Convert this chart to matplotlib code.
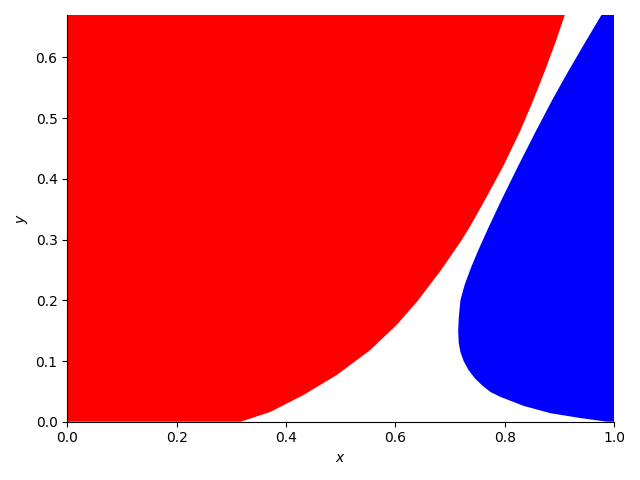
import matplotlib
matplotlib.use("Agg")
import matplotlib.pyplot as plt

# boundary of the red region (x, y) from bottom to top
red_x = [0.317, 0.371, 0.432, 0.493, 0.554, 0.603, 0.640, 0.683, 0.719, 0.737,
         0.765, 0.798, 0.829, 0.853, 0.874, 0.893, 0.910]
red_y = [0.0, 0.016, 0.044, 0.077, 0.118, 0.160, 0.198, 0.249, 0.296, 0.322,
         0.367, 0.422, 0.480, 0.531, 0.579, 0.625, 0.670]

# left boundary of the blue region (x, y), from bottom to top
blue_x = [0.988, 0.939, 0.884, 0.835, 0.792, 0.774, 0.760, 0.746, 0.734, 0.725,
          0.719, 0.716, 0.715, 0.716, 0.719, 0.727, 0.739, 0.752, 0.771, 0.794,
          0.824, 0.855, 0.887, 0.913, 0.944, 0.977]
blue_y = [0.0, 0.006, 0.014, 0.026, 0.041, 0.049, 0.059, 0.071, 0.085, 0.100,
          0.115, 0.130, 0.150, 0.170, 0.200, 0.226, 0.255, 0.283, 0.321, 0.365,
          0.420, 0.475, 0.530, 0.572, 0.620, 0.670]

ymax = 0.67

fig, ax = plt.subplots(figsize=(6.4, 4.8))
ax.fill([0.0] + red_x + [0.0], [0.0] + red_y + [ymax], color="red", linewidth=0)
ax.fill(blue_x + [1.0, 1.0], blue_y + [ymax, 0.0], color="blue", linewidth=0)

ax.set_xlim(0, 1)
ax.set_ylim(0, ymax)
ax.spines["top"].set_visible(False)
ax.spines["right"].set_visible(False)
ax.set_xlabel("$x$")
ax.set_ylabel("$y$")
fig.tight_layout()
fig.savefig("out.png", dpi=100)
